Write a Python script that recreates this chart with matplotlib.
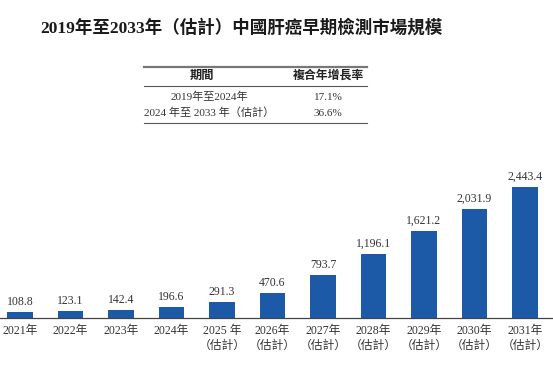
import matplotlib
matplotlib.use('Agg')
import matplotlib.pyplot as plt
from matplotlib.lines import Line2D

years = ['2021年', '2022年', '2023年', '2024年', '2025 年\n（估計）',
         '2026年\n（估計）', '2027年\n（估計）', '2028年\n（估計）',
         '2029年\n（估計）', '2030年\n（估計）', '2031年\n（估計）']
values = [108.8, 123.1, 142.4, 196.6, 291.3, 470.6, 793.7, 1196.1,
          1621.2, 2031.9, 2443.4]
value_labels = ['108.8', '123.1', '142.4', '196.6', '291.3', '470.6', '793.7',
                '1,196.1', '1,621.2', '2,031.9', '2,443.4']

periods = ['2019年至2024年', '2024 年至 2033 年（估計）']
cagr = ['17.1%', '36.6%']

FONT = ['Liberation Serif', 'Noto Sans CJK TC', 'DejaVu Sans']
W, H = 553, 369
blue = '#1c59a6'

fig = plt.figure(figsize=(W / 100, H / 100), dpi=100)

def px(x, y):
    return x / W, 1 - y / H

# title
fig.text(*px(241, 28), '2019年至2033年（估計）中國肝癌早期檢測市場規模',
         ha='center', va='center', fontsize=12.6, fontweight='bold',
         family=FONT, color='#1a1a1a')

# CAGR table
for y, lw, c in [(67, 1.6, '#777777'), (86, 0.8, '#555555'), (123, 0.8, '#555555')]:
    x0, yy = px(144, y)
    x1, _ = px(367, y)
    fig.add_artist(Line2D([x0, x1], [yy, yy], lw=lw, color=c,
                          transform=fig.transFigure))
fig.text(*px(202, 76), '期間', ha='center', va='center', fontsize=8.8,
         fontweight='bold', family=FONT, color='#222222')
fig.text(*px(328, 76), '複合年增長率', ha='center', va='center', fontsize=8.6,
         fontweight='bold', family=FONT, color='#222222')
for i, (p, c) in enumerate(zip(periods, cagr)):
    y = 97 + i * 16
    fig.text(*px(209, y), p, ha='center', va='center', fontsize=8,
             family=FONT, color='#333333')
    fig.text(*px(328, y), c, ha='center', va='center', fontsize=8,
             family=FONT, color='#333333')

# bar chart
ax = fig.add_axes([0, 51 / H, 1, 148 / H])
x = list(range(len(values)))
bars = ax.bar(x, values, width=0.5, color=blue)
for b, lab in zip(bars, value_labels):
    ax.annotate(lab, (b.get_x() + b.get_width() / 2, b.get_height()),
                xytext=(0, 3), textcoords='offset points', ha='center',
                va='bottom', fontsize=8.5, family=FONT, color='#333333')

ax.set_xlim(-20 / 50.5, (W - 20) / 50.5)
ax.set_ylim(0, 2760)
ax.set_xticks(x)
ax.set_xticklabels(years, family=FONT, fontsize=8.5, color='#333333',
                   linespacing=1.3)
ax.tick_params(axis='x', length=0, pad=5)
ax.set_yticks([])
for s in ['top', 'left', 'right']:
    ax.spines[s].set_visible(False)
ax.spines['bottom'].set_color('#444444')
ax.spines['bottom'].set_linewidth(0.9)

fig.savefig('out.png', dpi=100)
